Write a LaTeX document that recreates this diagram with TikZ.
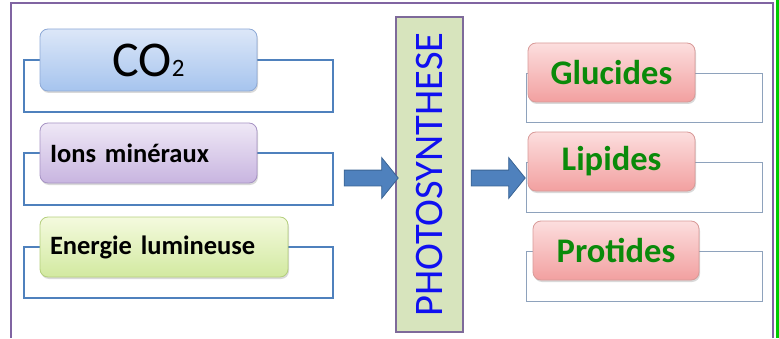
\documentclass[tikz,border=0pt]{standalone}
\usepackage{fontspec}
\setmainfont{Carlito}
\usetikzlibrary{shapes.arrows,shadows}
\definecolor{framepurple}{HTML}{8064A2}
\definecolor{brblue}{HTML}{4F81BD}
\definecolor{brgray}{HTML}{8EA2BC}
\definecolor{txtgreen}{HTML}{0A8A0A}
\definecolor{txtblue}{HTML}{1010F0}
\definecolor{arrfill}{HTML}{4F81BD}
\definecolor{arrdraw}{HTML}{3A6494}
\definecolor{photofill}{HTML}{D7E4BD}
\definecolor{photodraw}{HTML}{7E6A9A}
\definecolor{bluetop}{HTML}{DCE7F8}
\definecolor{bluebot}{HTML}{A6C4EE}
\definecolor{bluedraw}{HTML}{8EA9D6}
\definecolor{purptop}{HTML}{EFE8F6}
\definecolor{purpbot}{HTML}{C8B5E0}
\definecolor{purpdraw}{HTML}{A794C4}
\definecolor{greentop}{HTML}{F4FADE}
\definecolor{greenbot}{HTML}{D2E9A0}
\definecolor{greendraw}{HTML}{B4CF7D}
\definecolor{redtop}{HTML}{FCDEDE}
\definecolor{redbot}{HTML}{F2A0A0}
\definecolor{reddraw}{HTML}{D89A98}
\tikzset{
  lbracket/.style={draw=brblue, line width=1.5pt, minimum width=309pt, inner sep=0pt},
  rbracket/.style={draw=brgray, line width=0.9pt, minimum width=236pt, inner sep=0pt},
  boxbase/.style={rounded corners=8pt, line width=0.8pt, inner sep=0pt,
    drop shadow={shadow xshift=1pt, shadow yshift=-2pt, opacity=0.25, fill=black!60}},
  bluebox/.style={boxbase, draw=bluedraw, top color=bluetop, bottom color=bluebot},
  purplebox/.style={boxbase, draw=purpdraw, top color=purptop, bottom color=purpbot},
  greenbox/.style={boxbase, draw=greendraw, top color=greentop, bottom color=greenbot},
  redbox/.style={boxbase, draw=reddraw, top color=redtop, bottom color=redbot, text=txtgreen, font=\bfseries\fontsize{34.5}{34.5}\selectfont},
  leftlabel/.style={font=\bfseries\fontsize{26.5}{26.5}\selectfont, align=left, inner xsep=10pt},
  blockarrow/.style={single arrow, draw=arrdraw, fill=arrfill, line width=0.8pt, inner xsep=0pt, inner ysep=7.5pt, single arrow head extend=12.5pt, single arrow tip angle=102, minimum height=54pt}
}
\begin{document}
\begin{tikzpicture}[x=1pt,y=1pt]
\useasboundingbox (0,0) rectangle (779,338);
% frame
\draw[framepurple, line width=2.5pt] (11,0) -- (11,335) -- (773,335) -- (773,0);
\draw[green!80!black, line width=2.2pt] (777.5,0) -- (777.5,338);
% left brackets
\node[lbracket, minimum height=52pt] (b1) at (178.5,252) {};
\node[lbracket, minimum height=52pt] (b2) at (178.5,159) {};
\node[lbracket, minimum height=51pt] (b3) at (178.5,65.5) {};
% left boxes
\node[bluebox, minimum width=217pt, minimum height=62pt, font=\fontsize{50}{50}\selectfont] (co2) at (148.5,278) {CO{\fontsize{25}{25}\selectfont 2}};
\node[purplebox, leftlabel, text width=197pt, minimum height=60pt] (ions) at (148.5,185) {Ions minéraux};
\node[greenbox, leftlabel, text width=228pt, minimum height=60pt] (energie) at (164,91) {Energie lumineuse};
% photosynthese
\node[draw=photodraw, fill=photofill, line width=1.6pt, minimum width=67pt, minimum height=315pt, inner sep=0pt] (photo) at (429.5,163.5) {};
\node[rotate=90, text=txtblue, font=\fontsize{40.5}{40.5}\selectfont] (phototxt) at (photo.center) {PHOTOSYNTHESE};
% arrows
\node[blockarrow] (a1) at (368,160) {};
\node[blockarrow] (a2) at (495,160) {};
% right brackets
\node[rbracket, minimum height=49pt] (r1) at (644,240.5) {};
\node[rbracket, minimum height=50pt] (r2) at (644,151) {};
\node[rbracket, minimum height=50pt] (r3) at (644,62) {};
% right boxes
\node[redbox, minimum width=167pt, minimum height=59pt] (glu) at (611.5,265.5) {Glucides};
\node[redbox, minimum width=167pt, minimum height=59pt] (lip) at (611.5,176.5) {Lipides};
\node[redbox, minimum width=166pt, minimum height=59pt] (pro) at (616,87.5) {Protides};
\end{tikzpicture}
\end{document}
